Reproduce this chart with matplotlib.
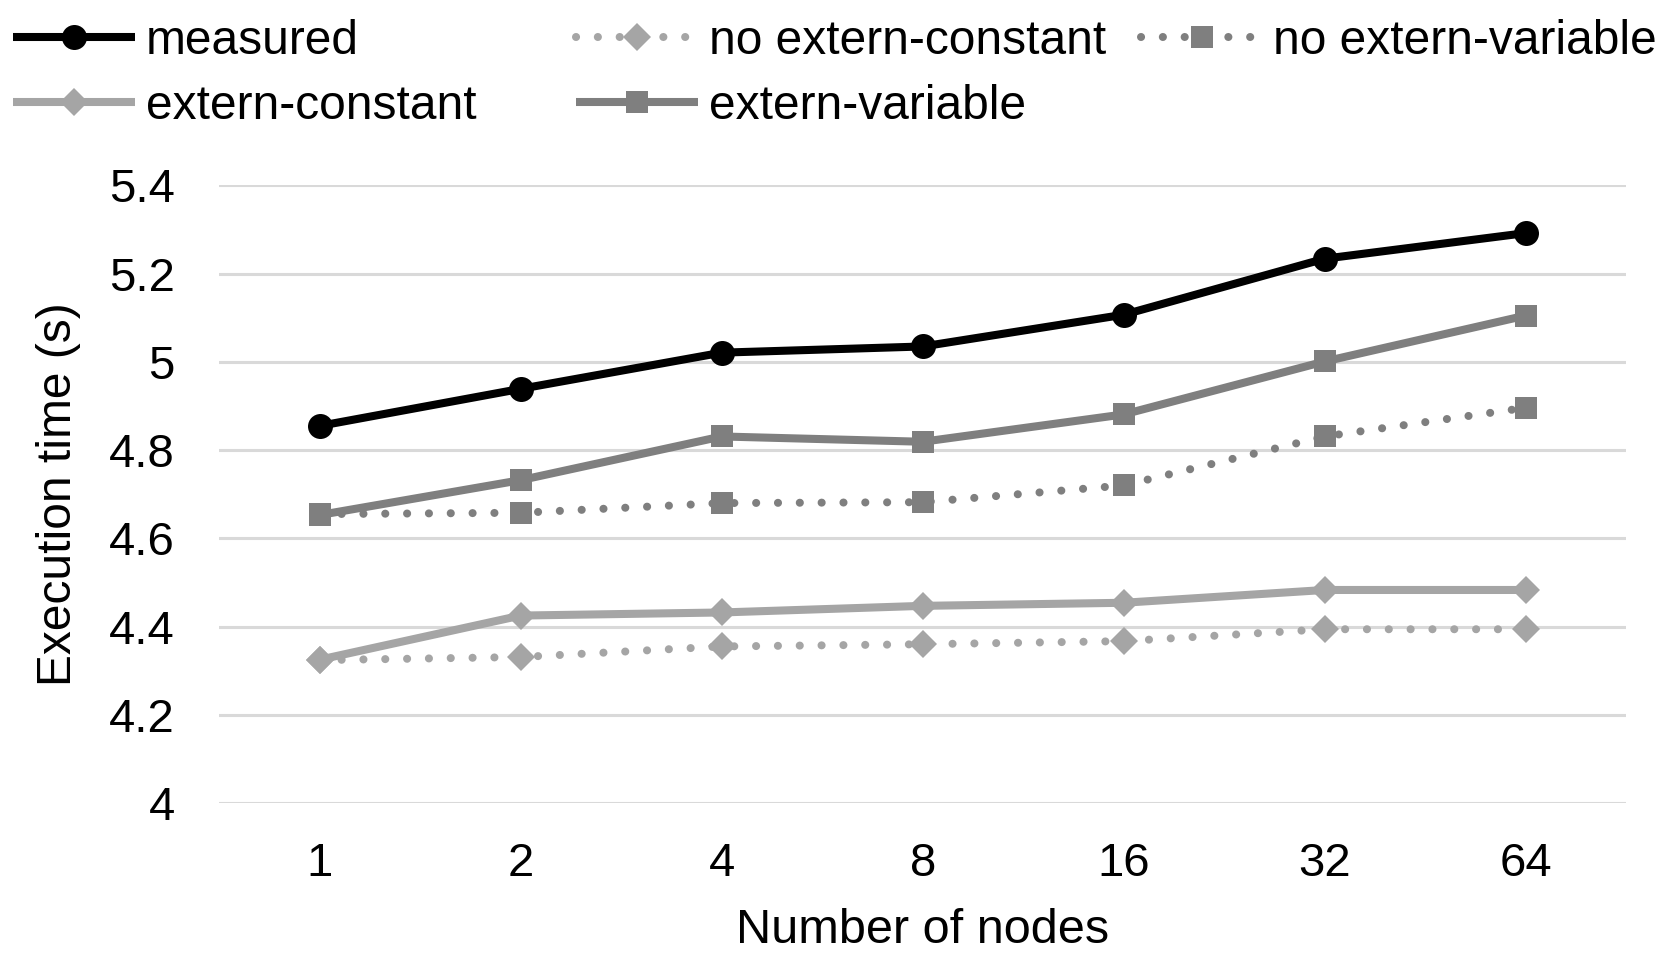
import matplotlib.pyplot as plt

nodes = ["1", "2", "4", "8", "16", "32", "64"]
measured = [4.855, 4.939, 5.021, 5.035, 5.107, 5.234, 5.292]
extern_variable = [4.653, 4.732, 4.831, 4.819, 4.881, 5.001, 5.105]
no_extern_variable = [4.655, 4.658, 4.680, 4.682, 4.720, 4.831, 4.896]
extern_constant = [4.325, 4.425, 4.432, 4.447, 4.454, 4.483, 4.483]
no_extern_constant = [4.324, 4.331, 4.355, 4.360, 4.367, 4.394, 4.394]
yticks = [4, 4.2, 4.4, 4.6, 4.8, 5, 5.2, 5.4]

plt.rcParams['font.family'] = ['Liberation Sans', 'DejaVu Sans']

fig = plt.figure(figsize=(16.61, 9.56), dpi=100)
ax = fig.add_axes([0.132, 0.160, 0.847, 0.646])

x = range(len(nodes))
dot = (0, (0.01, 2.7))
dark = '#7f7f7f'
light = '#a5a5a5'

series = [
    (measured, 'measured', 'black', '-', 'o', 18),
    (extern_constant, 'extern-constant', light, '-', 'D', 14),
    (no_extern_constant, 'no extern-constant', light, dot, 'D', 14),
    (extern_variable, 'extern-variable', dark, '-', 's', 16),
    (no_extern_variable, 'no extern-variable', dark, dot, 's', 16),
]

handles = []
for vals, name, col, ls, mk, ms in series:
    line, = ax.plot(x, vals, color=col, linestyle=ls, linewidth=5.8,
                    marker=mk, markersize=ms, markeredgewidth=0,
                    dash_capstyle='round', solid_capstyle='butt',
                    label=name)
    handles.append(line)
# measured on top
handles[0].set_zorder(5)

ax.set_xlim(-0.5, len(nodes) - 0.5)
ax.set_ylim(4, 5.4)
ax.set_xticks(list(x))
ax.set_xticklabels(nodes)
ax.set_yticks(yticks)
ax.set_yticklabels(['{:g}'.format(v) for v in yticks])
ax.tick_params(axis='both', length=0, labelsize=34)
ax.tick_params(axis='y', pad=32)
ax.tick_params(axis='x', pad=28)
ax.grid(axis='y', color='#d9d9d9', linewidth=2.2)
ax.set_axisbelow(True)
for s in ax.spines.values():
    s.set_visible(False)

ax.set_ylabel('Execution time (s)', fontsize=34.5, labelpad=20)
ax.set_xlabel('Number of nodes', fontsize=35, labelpad=16)

# legend: three equal-width columns across the top
cols = [[handles[0], handles[1]], [handles[2], handles[3]], [handles[4]]]
xs = [0.002, 0.341, 0.681]
for hs, xpos in zip(cols, xs):
    fig.legend(handles=hs, loc='upper left', bbox_to_anchor=(xpos, 0.990),
               frameon=False, fontsize=34.5, handlelength=2.55,
               handletextpad=0.22, labelspacing=0.42, borderaxespad=0.0,
               borderpad=0.2)

fig.savefig('out.png', dpi=100)
